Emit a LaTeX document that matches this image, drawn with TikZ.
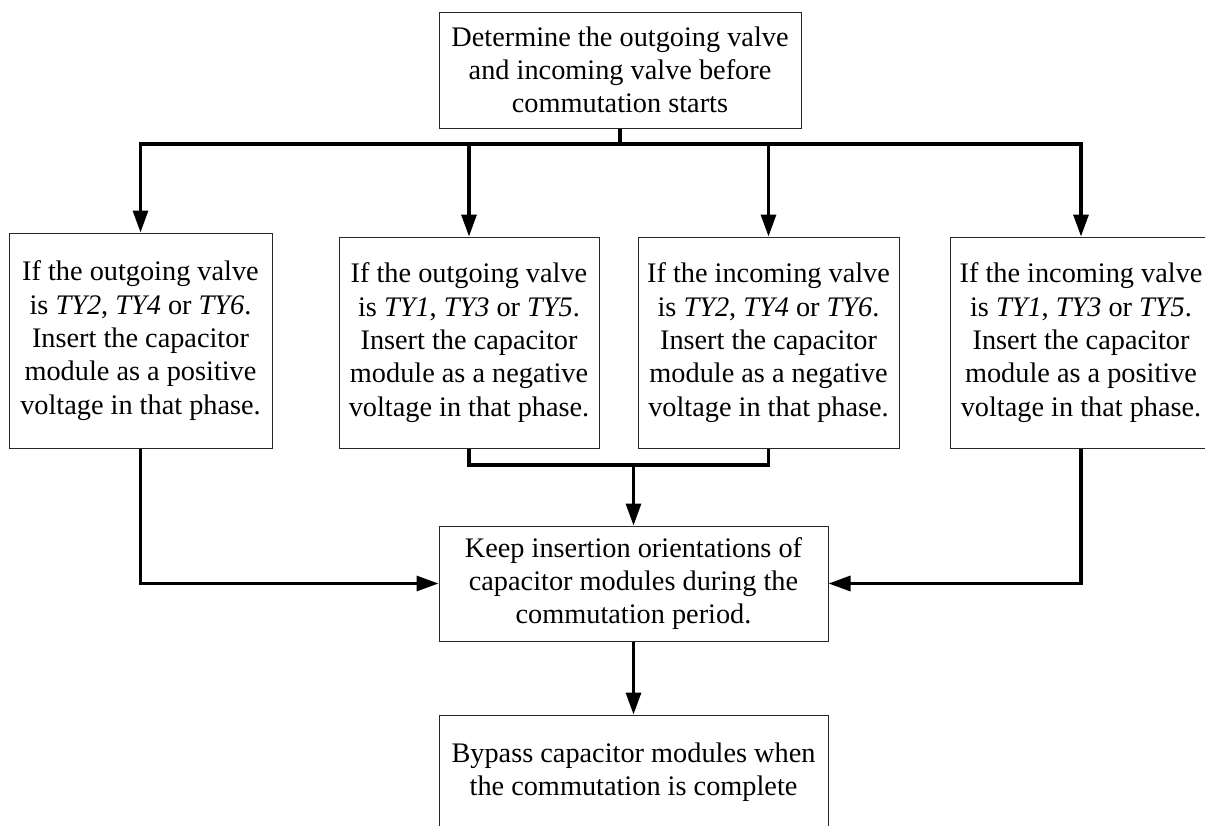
\documentclass[tikz,border=0pt]{standalone}
\usepackage{fontspec}
\setmainfont{Liberation Serif}
\usetikzlibrary{arrows.meta}
\begin{document}
\begin{tikzpicture}[x=1pt,y=-1pt,
  box/.style={draw=black!85,line width=1pt,inner sep=0pt,align=center,
    font=\fontsize{28.3}{33.3}\selectfont},
  conn/.style={line width=3.2pt,black},
  arr/.style={conn,-{Triangle[length=22pt,width=15pt]}}]
\useasboundingbox (0,0) rectangle (1205,825);
\clip (0,0) rectangle (1205,825);

% starting step
\node[box,minimum width=362pt,minimum height=116pt] (top) at (620,70)
  {Determine the outgoing valve\\and incoming valve before\\commutation starts};

% four cases
\node[box,minimum width=263pt,minimum height=215pt] (b1) at (140.5,340.5)
  {If the outgoing valve\\is \textit{TY2}, \textit{TY4} or \textit{TY6}.\\Insert the capacitor\\module as a positive\\voltage in that phase.};
\node[box,minimum width=260pt,minimum height=211pt] (b2) at (469,342.5)
  {If the outgoing valve\\is \textit{TY1}, \textit{TY3} or \textit{TY5}.\\Insert the capacitor\\module as a negative\\voltage in that phase.};
\node[box,minimum width=261pt,minimum height=211pt] (b3) at (768.5,342.5)
  {If the incoming valve\\is \textit{TY2}, \textit{TY4} or \textit{TY6}.\\Insert the capacitor\\module as a negative\\voltage in that phase.};
\node[box,minimum width=262pt,minimum height=211pt] (b4) at (1081,342.5)
  {If the incoming valve\\is \textit{TY1}, \textit{TY3} or \textit{TY5}.\\Insert the capacitor\\module as a positive\\voltage in that phase.};

% common steps
\node[box,minimum width=389pt,minimum height=115pt] (mid) at (633.5,583.5)
  {Keep insertion orientations of\\capacitor modules during the\\commutation period.};
\node[box,minimum width=389pt,minimum height=115pt] (bot) at (633.5,772.5)
  {Bypass capacitor modules when\\the commutation is complete};

% branching from the first step
\coordinate (jT) at (620,144);
\draw[conn] (top.south) -- (jT);
\draw[arr] (jT) -| (b1.north);
\draw[arr] (jT) -| (b2.north);
\draw[arr] (jT) -| (b3.north);
\draw[arr] (jT) -| (b4.north);

% merging into the common step
\coordinate (jM) at (633.5,465);
\draw[conn] (b2.south) |- (jM);
\draw[conn] (b3.south) |- (jM);
\draw[arr] (jM) -- (mid.north);
\draw[arr] (b1.south) |- (mid.west);
\draw[arr] (b4.south) |- (mid.east);
\draw[arr] (mid.south) -- (bot.north);
\end{tikzpicture}
\end{document}
